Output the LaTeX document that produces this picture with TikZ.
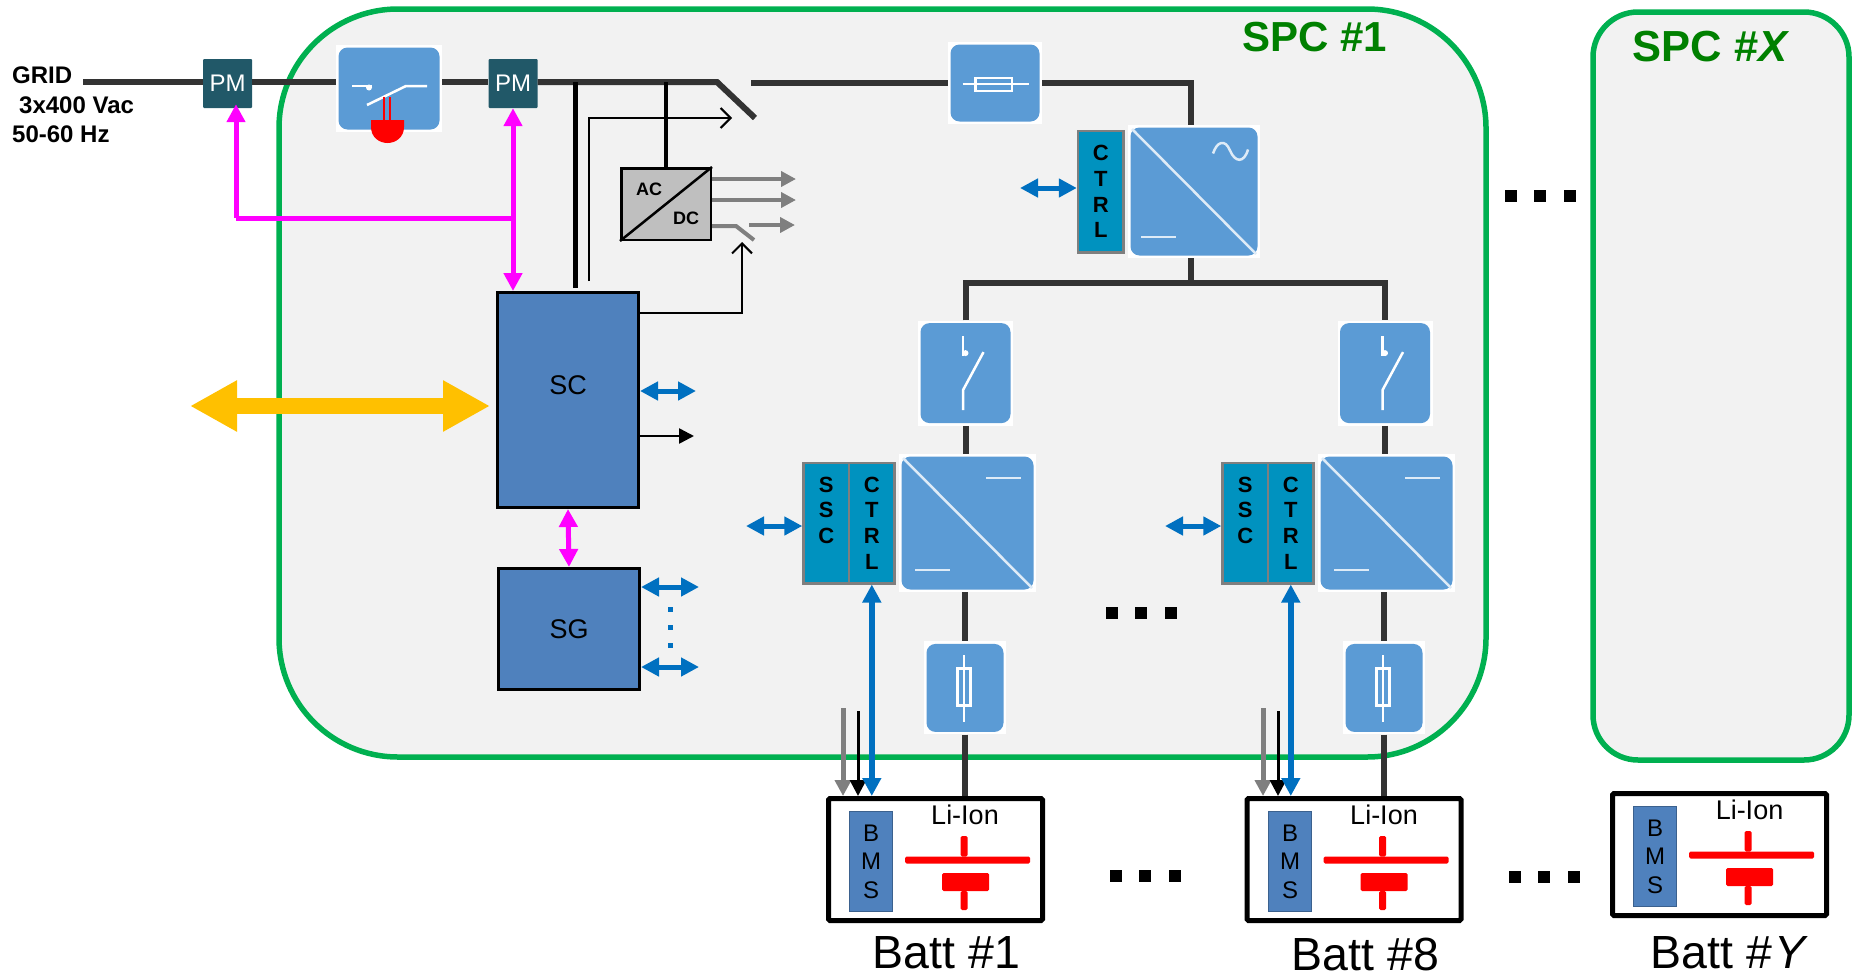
\documentclass[tikz,border=0pt]{standalone}
\usepackage{fontspec}
\setmainfont{Liberation Sans}
\usetikzlibrary{arrows.meta,positioning}
\definecolor{spcgreen}{RGB}{0,176,80}
\definecolor{spctext}{RGB}{0,128,0}
\definecolor{spcfill}{RGB}{242,242,242}
\definecolor{iconblue}{RGB}{91,155,213}
\definecolor{boxblue}{RGB}{79,129,189}
\definecolor{ctrlteal}{RGB}{0,146,191}
\definecolor{pmteal}{RGB}{33,88,104}
\definecolor{linkblue}{RGB}{0,112,192}
\definecolor{linkmag}{RGB}{255,0,255}
\definecolor{linkgold}{RGB}{255,192,0}
\definecolor{busgray}{RGB}{51,51,51}
\definecolor{auxgray}{RGB}{127,127,127}
\definecolor{glyphline}{RGB}{222,235,247}

\begin{document}
\begin{tikzpicture}[
        x=1pt, y=-1pt,
        spcbox/.style={rectangle, draw=spcgreen, fill=spcfill, line width=5.5pt},
        spctitle/.style={inner sep=0pt, text=spctext, font=\fontsize{42}{46}\selectfont\bfseries},
        pmbox/.style={rectangle, fill=pmteal, rounded corners=1pt, text=white, inner sep=0pt, minimum width=49pt, minimum height=49pt, font=\fontsize{24}{28}\selectfont},
        ctlbox/.style={rectangle, draw=black, fill=boxblue, line width=3pt, align=center, inner sep=0pt, minimum width=141pt, font=\fontsize{27}{30}\selectfont},
        ctrlbox/.style={rectangle, draw=auxgray, fill=ctrlteal, line width=2.5pt, align=center, inner sep=0pt, minimum width=45.5pt, minimum height=#1, font=\fontsize{22}{25.7}\selectfont\bfseries},
        acdcbox/.style={rectangle, draw=black, fill=black!25, line width=2.5pt, inner sep=0pt, minimum width=89.5pt, minimum height=71.5pt},
        acdctext/.style={inner sep=0pt, font=\fontsize{18}{20}\selectfont\bfseries},
        icon/.style={rectangle, fill=white, inner sep=0pt, path picture={
            \fill[iconblue, rounded corners=9pt] ([shift={(2.5,2.5)}]path picture bounding box.north west) rectangle ([shift={(-2.5,-2.5)}]path picture bounding box.south east);
            \begin{scope}[shift={(path picture bounding box.center)}, color=white, line width=2.5pt]
                #1
            \end{scope}}},
        breakerbox/.style={minimum width=106pt, minimum height=87pt, icon={
            \draw (-37,-2.5) -- (-17,-2.5);
            \fill (-20,-1) circle (3);
            \draw (-22,16.5) -- (17,-2.5) -- (38,-2.5);
            \draw[red, line width=1.5pt] (-5,8.5) -- (-5,31.5);
            \draw[red, line width=1.5pt] (1,8.5) -- (1,31.5);}},
        fusehbox/.style={minimum width=94pt, minimum height=82pt, icon={
            \draw (-32.5,1) -- (34,1);
            \draw (-19.5,-5) rectangle (17,8);}},
        fusevbox/.style={minimum width=82pt, minimum height=93pt, icon={
            \draw (-1,-32.5) -- (-1,34.5);
            \draw (-7.5,-19.5) rectangle (5.5,17.5);}},
        switchbox/.style={minimum width=95pt, minimum height=105pt, icon={
            \draw (-2.5,-37) -- (-2.5,-17);
            \fill (0,-20) circle (3);
            \draw (18,-21) -- (-2.5,17) -- (-2.5,37);}},
        convbox/.style={icon={
            \draw[glyphline] ([shift={(4,4)}]path picture bounding box.north west) -- ([shift={(-4,-4)}]path picture bounding box.south east);
            #1}},
        dcacbox/.style={minimum width=132pt, minimum height=133pt, convbox={
            \draw[glyphline] (-53,45.5) -- (-18,45.5);
            \draw[glyphline] (19,-38) .. controls (23,-50) and (31,-53) .. (36,-41) .. controls (41,-29) and (50,-28) .. (54,-42);}},
        dcdcbox/.style={minimum width=137pt, minimum height=138pt, convbox={
            \draw[glyphline] (18.5,-45) -- (53.5,-45);
            \draw[glyphline] (-52.5,47) -- (-17.5,47);}},
        battbox/.style={rectangle, draw=black, fill=white, line width=5pt, rounded corners=1.5pt, inner sep=0pt, minimum width=214pt, minimum height=122pt, path picture={
            \begin{scope}[shift={(path picture bounding box.center)}]
                \fill[red] (-30.5,-3) rectangle (94.5,4);
                \fill[red] (25,-23.5) rectangle (32,-3);
                \fill[red] (6.5,13.5) rectangle (53.5,31.5);
                \fill[red] (25,31.5) rectangle (32,50.5);
            \end{scope}}},
        bmsbox/.style={rectangle, draw=boxblue!75!black, fill=boxblue, line width=1pt, align=center, inner sep=0pt, minimum width=43pt, minimum height=100pt, font=\fontsize{24}{28.5}\selectfont},
        liontext/.style={inner sep=0pt, font=\fontsize{27}{30}\selectfont},
        batttext/.style={inner sep=0pt, font=\fontsize{46.5}{50}\selectfont},
        bigdot/.style={rectangle, fill=black, inner sep=0pt, minimum size=12pt},
        smalldot/.style={rectangle, fill=linkblue, inner sep=0pt, minimum size=5pt},
        bus/.style={draw=busgray, line width=6pt},
        feed/.style={draw=black, line width=4pt},
        thinarrow/.style={draw=black, line width=2pt, -{Straight Barb[length=10pt,width=20pt]}},
        auxline/.style={draw=auxgray, line width=4pt},
        auxarrow/.style={auxline, -{Triangle[length=15pt,width=15pt]}},
        downgray/.style={draw=auxgray, line width=5pt, -{Triangle[length=16pt,width=16pt]}},
        downblack/.style={draw=black, line width=3pt, -{Triangle[length=16pt,width=16pt]}},
        bluearrow/.style={draw=linkblue, line width=5pt, {Triangle[length=18pt,width=18pt]}-{Triangle[length=18pt,width=18pt]}},
        magarrow/.style={draw=linkmag, line width=5pt},
        goldarrow/.style={draw=linkgold, line width=16pt, {Triangle[length=47pt,width=48pt]}-{Triangle[length=47pt,width=48pt]}},
        blackarrow/.style={draw=black, line width=2.5pt, -{Triangle[length=15pt,width=15pt]}}
    ]
        \useasboundingbox (0,0) rectangle (1852,977);

        \node[spcbox, minimum width=1207pt, minimum height=748pt, rounded corners=119pt] (spc1) at (882.5,383) {};
        \node[spcbox, minimum width=256pt, minimum height=748pt, rounded corners=45pt] (spcx) at (1721,386) {};
        \node[spctitle] (spc1title) at (1315,37) {SPC \#1};
        \node[spctitle, font=\fontsize{43.5}{46}\selectfont\bfseries] (spcxtitle) at (1711,47) {SPC \#\textit{X}};

        \node[inner sep=0pt, anchor=north west, align=left, font=\fontsize{24}{29.5}\selectfont\bfseries] (gridtext) at (12,67) {GRID\\\hspace*{7pt}3x400 Vac\\50-60 Hz};
        \coordinate (gridin) at (83,82);
        \node[pmbox] (pm1) at (227.5,83.5) {PM};
        \node[breakerbox] (breaker) at (389,88.5) {};
        \fill[red] (371,120) -- (404,120) -- (404,127) .. controls (404,137) and (396,143) .. (387.5,143) .. controls (379,143) and (371,137) .. (371,127) -- cycle;
        \node[pmbox] (pm2) at (513,83.5) {PM};
        \node[fusehbox] (fuse0) at (995,83) {};
        \node[dcacbox] (conv0) at (1194,191.5) {};
        \node[ctrlbox=121.5pt, left=3pt of conv0] (ctrl0) {C\\T\\R\\L};

        \coordinate (bladetop) at (717,82);
        \coordinate (bladeend) at (755,118);
        \coordinate (mainout) at (751,83);
        \draw[bus] (gridin) -- (gridin -| pm1.west);
        \draw[bus] (gridin -| pm1.east) -- (gridin -| breaker.west);
        \draw[bus] (gridin -| breaker.east) -- (gridin -| pm2.west);
        \draw[bus] (gridin -| pm2.east) -- (bladetop) -- (bladeend);
        \draw[bus] (mainout) -- (fuse0.west);
        \draw[bus] (fuse0.east) -| ([xshift=-3pt]conv0.north);

        \node[ctlbox, minimum height=215pt] (sc) at (568,400) {SC\\~};
        \node[ctlbox, minimum height=121pt] (sg) at (569,629) {SG};
        \node[acdcbox] (acdc) at (666,204) {};
        \draw[black, line width=2.5pt] (acdc.south west) -- (acdc.north east);
        \node[acdctext] (actext) at (649,189) {AC};
        \node[acdctext] (dctext) at (686,218) {DC};

        \draw[feed] (gridin -| acdc.north) -- (acdc.north);
        \draw[draw=black, line width=5pt] ([xshift=7pt,yshift=3pt]sc.north) -- ([xshift=7pt]sc.north |- gridin);
        \coordinate (bladectl) at (732,118);
        \draw[thinarrow] ([xshift=21pt,yshift=10pt]sc.north) |- (bladectl);
        \coordinate (auxctl) at (742,242);
        \draw[thinarrow] ([yshift=87pt]sc.east) -| (auxctl);

        \coordinate (aux1) at (796,179);
        \coordinate (aux2) at (796,200);
        \coordinate (aux3in) at (712,226);
        \coordinate (aux3top) at (736,226);
        \coordinate (aux3end) at (754,240);
        \coordinate (aux3out) at (749,225);
        \coordinate (aux3) at (795,225);
        \draw[auxarrow] (acdc.east |- aux1) -- (aux1);
        \draw[auxarrow] (acdc.east |- aux2) -- (aux2);
        \draw[auxline] (aux3in) -- (aux3top) -- (aux3end);
        \draw[auxarrow] (aux3out) -- (aux3);

        \coordinate (pm1corner) at (236,218);
        \coordinate (pm2corner) at (513,218);
        \draw[magarrow] (pm2corner) -- (pm1corner);
        \draw[magarrow, -{Triangle[length=18pt,width=18pt]}, shorten >=-4pt] (pm1corner) -- (pm1corner |- pm1.south);
        \draw[magarrow, {Triangle[length=18pt,width=18pt]}-{Triangle[length=18pt,width=18pt]}] (pm2.south) -- (pm2.south |- sc.north);
        \draw[magarrow, {Triangle[length=18pt,width=18pt]}-{Triangle[length=18pt,width=18pt]}] (sc.south) -- (sg.north);

        \coordinate (goldl) at (190,406);
        \coordinate (goldr) at (490,406);
        \draw[goldarrow] (goldl) -- (goldr);

        \coordinate (sclink) at (696,391);
        \coordinate (scout) at (694,436);
        \coordinate (sglink1) at (699,587);
        \coordinate (sglink2) at (699,667);
        \coordinate (ctrl0link) at (1020,188);
        \draw[bluearrow] (sc.east |- sclink) -- (sclink);
        \draw[blackarrow] (sc.east |- scout) -- (scout);
        \draw[bluearrow] (sg.east |- sglink1) -- (sglink1);
        \draw[bluearrow] (sg.east |- sglink2) -- (sglink2);
        \draw[bluearrow] (ctrl0link) -- (ctrl0.west |- ctrl0link);
        \node[smalldot] (sgdot1) at (670,609) {};
        \node[smalldot] (sgdot2) at (670,627) {};
        \node[smalldot] (sgdot3) at (670,645) {};

        \node[dcdcbox] (conv1) at (967.5,523) {};
        \node[switchbox, above=28pt of conv1, xshift=-2pt] (sw1) {};
        \node[fusevbox, below=49pt of conv1, xshift=-2.5pt] (fuse1) {};
        \node[ctrlbox=120.5pt, left=3pt of conv1] (ctrl1) {C\\T\\R\\L};
        \node[ctrlbox=120.5pt, left=-2.5pt of ctrl1] (ssc1) {S\\S\\C\\~};
        \node[battbox] (batt1) at (935.5,859.5) {};
        \node[bmsbox, right=23pt of batt1.west, yshift=-2pt] (bms1) {B\\M\\S};
        \node[liontext, below=9pt of batt1.north, xshift=29.5pt] (lion1) {Li-Ion};
        \node[batttext, below=13.5pt of batt1, xshift=11pt] (batt1text) {Batt \#1};

        \node[dcdcbox] (conv2) at (1386.5,523) {};
        \node[switchbox, above=28pt of conv2, xshift=-1.5pt] (sw2) {};
        \node[fusevbox, below=49pt of conv2, xshift=-2.5pt] (fuse2) {};
        \node[ctrlbox=120.5pt, left=3pt of conv2] (ctrl2) {C\\T\\R\\L};
        \node[ctrlbox=120.5pt, left=-2.5pt of ctrl2] (ssc2) {S\\S\\C\\~};
        \node[battbox] (batt2) at (1354,859.5) {};
        \node[bmsbox, right=23.5pt of batt2.west, yshift=-2pt] (bms2) {B\\M\\S};
        \node[liontext, below=9pt of batt2.north, xshift=30pt] (lion2) {Li-Ion};
        \node[batttext, below=15pt of batt2, xshift=11.5pt] (batt2text) {Batt \#8};

        \node[battbox] (batty) at (1719.5,854.5) {};
        \node[bmsbox, right=23pt of batty.west, yshift=-2pt] (bmsy) {B\\M\\S};
        \node[liontext, below=9pt of batty.north, xshift=30pt] (liony) {Li-Ion};
        \node[batttext, below=18.5pt of batty, xshift=10pt] (battytext) {Batt \#\hspace{2pt}\textit{Y}};

        \coordinate (dcbus) at (1191,283);
        \draw[bus] ([xshift=-3pt]conv0.south) -- (dcbus);
        \draw[bus] (sw1.north) |- (dcbus) -| (sw2.north);
        \draw[bus] (sw1.south) -- (sw1.south |- conv1.north);
        \draw[bus] (sw2.south) -- (sw2.south |- conv2.north);
        \draw[bus] (fuse1.north |- conv1.south) -- (fuse1.north);
        \draw[bus] (fuse2.north |- conv2.south) -- (fuse2.north);
        \draw[bus] (fuse1.south) -- (fuse1.south |- batt1.north);
        \draw[bus] (fuse2.south) -- (fuse2.south |- batt2.north);

        \coordinate (gray1) at (843,708);
        \coordinate (black1) at (858,711);
        \coordinate (gray2) at (1263,708);
        \coordinate (black2) at (1278,711);
        \coordinate (ssc1link) at (746,526);
        \coordinate (ssc2link) at (1165,526);
        \draw[downgray] (gray1) -- (gray1 |- batt1.north);
        \draw[downblack] (black1) -- (black1 |- batt1.north);
        \draw[bluearrow, line width=6pt] (ctrl1.south) -- (ctrl1.south |- batt1.north);
        \draw[downgray] (gray2) -- (gray2 |- batt2.north);
        \draw[downblack] (black2) -- (black2 |- batt2.north);
        \draw[bluearrow, line width=6pt] (ctrl2.south) -- (ctrl2.south |- batt2.north);
        \draw[bluearrow] (ssc1link) -- (ssc1.west |- ssc1link);
        \draw[bluearrow] (ssc2link) -- (ssc2.west |- ssc2link);

        \node[bigdot] (topdot1) at (1511,196) {};
        \node[bigdot, right=17pt of topdot1] (topdot2) {};
        \node[bigdot, right=17pt of topdot2] (topdot3) {};
        \node[bigdot] (middot1) at (1112,612.5) {};
        \node[bigdot, right=17pt of middot1] (middot2) {};
        \node[bigdot, right=17pt of middot2] (middot3) {};
        \node[bigdot] (lowdot1) at (1116,876) {};
        \node[bigdot, right=17pt of lowdot1] (lowdot2) {};
        \node[bigdot, right=17pt of lowdot2] (lowdot3) {};
        \node[bigdot] (rowdot1) at (1515,877) {};
        \node[bigdot, right=17pt of rowdot1] (rowdot2) {};
        \node[bigdot, right=17pt of rowdot2] (rowdot3) {};
    \end{tikzpicture}
\end{document}
